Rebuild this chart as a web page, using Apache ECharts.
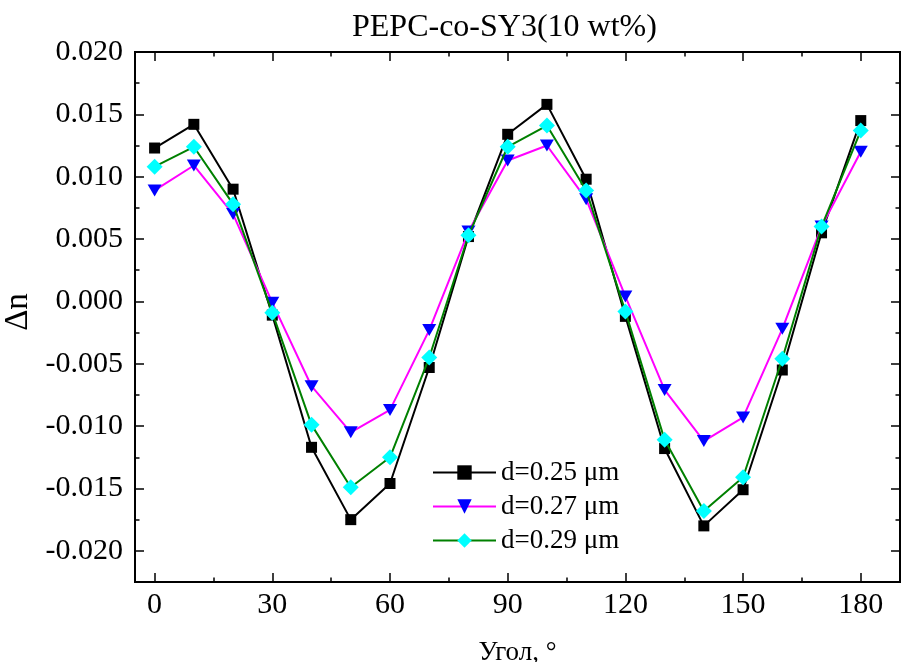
<!DOCTYPE html>
<html>
<head>
<meta charset="utf-8">
<script src="https://cdn.jsdelivr.net/npm/echarts@6/dist/echarts.min.js"></script>
<style>
html,body{margin:0;padding:0;background:#fff;}
#c{width:901px;height:662px;}
</style>
</head>
<body>
<div id="c"></div>
<script>
var angles = [0,10,20,30,40,50,60,70,80,90,100,110,120,130,140,150,160,170,180];
var d025 = [0.0123,0.0142,0.0090,-0.0011,-0.0117,-0.0175,-0.0146,-0.0053,0.0052,0.0134,0.0158,0.0098,-0.0012,-0.0118,-0.0180,-0.0151,-0.0055,0.0055,0.0145];
var d027 = [0.0089,0.0109,0.0070,-0.0001,-0.0068,-0.0105,-0.0087,-0.0023,0.0056,0.0113,0.0125,0.0082,0.0004,-0.0071,-0.0112,-0.0093,-0.0022,0.0060,0.0120];
var d029 = [0.0108,0.0124,0.0078,-0.0009,-0.0099,-0.0149,-0.0125,-0.0045,0.0053,0.0124,0.0141,0.0089,-0.0008,-0.0111,-0.0168,-0.0141,-0.0046,0.0060,0.0137];
var seriesNames = ['d=0.25 \u03bcm','d=0.27 \u03bcm','d=0.29 \u03bcm'];
var xTicks = [0,30,60,90,120,150,180];
var yTicks = ['-0.020','-0.015','-0.010','-0.005','0.000','0.005','0.010','0.015','0.020'];

var FONT = '"Liberation Serif","Times New Roman",serif';
function pairs(v){ return angles.map(function(a,i){ return [a, v[i]]; }); }

var chart = echarts.init(document.getElementById('c'), null, {renderer:'canvas'});

var tickCommon = {show:true, inside:true, length:9, lineStyle:{color:'#000', width:1.5}};
var minorCommon = {show:true, splitNumber:2, length:4.5, lineStyle:{color:'#000', width:1.5}};
var hiddenLine = {show:false, onZero:false};

chart.setOption({
  animation:false,
  backgroundColor:'#fff',
  title:{
    text:'PEPC-co-SY3(10 wt%)',
    left:352, top:12, padding:0,
    textStyle:{fontFamily:FONT, fontSize:32, fontWeight:'normal', color:'#000'}
  },
  legend:{
    orient:'vertical', left:427, top:454, itemWidth:63, itemHeight:18, itemGap:7,
    textStyle:{fontFamily:FONT, fontSize:27, color:'#000', lineHeight:27, padding:[0,0,0,0]},
    data:seriesNames
  },
  grid:[
    {left:135, top:52, right:1, bottom:80, show:true, borderColor:'#000', borderWidth:2, backgroundColor:'transparent', containLabel:false, outerBoundsMode:'none'},
    {left:154.6, top:52, right:40.2, bottom:111.2, containLabel:false, outerBoundsMode:'none'}
  ],
  xAxis:[
    {gridIndex:0, type:'value', min:-5, max:190, position:'bottom',
     axisLine:hiddenLine, axisTick:{show:false}, axisLabel:{show:false}, splitLine:{show:false},
     name:'\u0423\u0433\u043e\u043b, \u00b0', nameLocation:'middle', nameGap:57,
     nameTextStyle:{fontFamily:FONT, fontSize:27, color:'#000'}},
    {gridIndex:1, type:'value', min:xTicks[0], max:xTicks[xTicks.length-1], interval:30, position:'bottom', offset:31.2,
     axisLine:hiddenLine, axisTick:tickCommon, minorTick:minorCommon, splitLine:{show:false}, minorSplitLine:{show:false},
     axisLabel:{show:true, margin:8, fontFamily:FONT, fontSize:30, color:'#000'}},
    {gridIndex:1, type:'value', min:xTicks[0], max:xTicks[xTicks.length-1], interval:30, position:'top', offset:0,
     axisLine:hiddenLine, axisTick:tickCommon, minorTick:minorCommon, splitLine:{show:false}, minorSplitLine:{show:false},
     axisLabel:{show:false}}
  ],
  yAxis:[
    {gridIndex:0, type:'value', min:-0.0225, max:0.020, position:'left',
     axisLine:hiddenLine, axisTick:{show:false}, axisLabel:{show:false}, splitLine:{show:false},
     name:'\u0394n', nameLocation:'middle', nameGap:100, nameRotate:90,
     nameTextStyle:{fontFamily:FONT, fontSize:33, color:'#000', padding:[0,0,0,10]}},
    {gridIndex:1, type:'value', min:parseFloat(yTicks[0]), max:parseFloat(yTicks[yTicks.length-1]), interval:0.005, position:'left', offset:19.6,
     axisLine:hiddenLine, axisTick:tickCommon, minorTick:minorCommon, splitLine:{show:false}, minorSplitLine:{show:false},
     axisLabel:{show:true, margin:12, fontFamily:FONT, fontSize:30, color:'#000',
       formatter:function(v){ var r = Math.round(v*1000)/1000; if (Math.abs(r)<1e-9) r = 0; return r.toFixed(3); }}},
    {gridIndex:1, type:'value', min:parseFloat(yTicks[0]), max:parseFloat(yTicks[yTicks.length-1]), interval:0.005, position:'right', offset:39.2,
     axisLine:hiddenLine, axisTick:tickCommon, minorTick:minorCommon, splitLine:{show:false}, minorSplitLine:{show:false},
     axisLabel:{show:false}}
  ],
  series:[
    {name:seriesNames[0], type:'line', xAxisIndex:0, yAxisIndex:0, data:pairs(d025),
     symbol:'rect', symbolSize:11, showAllSymbol:true,
     lineStyle:{color:'#000000', width:2}, itemStyle:{color:'#000000'}, z:2},
    {name:seriesNames[1], type:'line', xAxisIndex:0, yAxisIndex:0, data:pairs(d027),
     symbol:'triangle', symbolRotate:180, symbolSize:[14,12], showAllSymbol:true,
     lineStyle:{color:'#ff00ff', width:2}, itemStyle:{color:'#0000ff'}, z:3},
    {name:seriesNames[2], type:'line', xAxisIndex:0, yAxisIndex:0, data:pairs(d029),
     symbol:'diamond', symbolSize:16, showAllSymbol:true,
     lineStyle:{color:'#008000', width:2}, itemStyle:{color:'#00ffff'}, z:4}
  ]
});
</script>
</body>
</html>
